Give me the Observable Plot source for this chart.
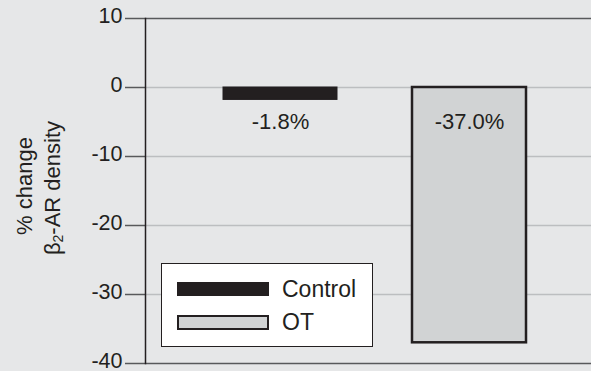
<!DOCTYPE html>
<html>
<head>
<meta charset="utf-8">
<script src="https://cdn.jsdelivr.net/npm/d3@7"></script>
<script src="https://cdn.jsdelivr.net/npm/@observablehq/plot@0.6"></script>
<style>
  html, body { margin: 0; padding: 0; background: #e6e7e8; }
  #wrap { position: relative; width: 591px; height: 371px; font-family: "Liberation Sans", Arial, sans-serif; color: #231f20; }
  #legend { position: absolute; left: 161px; top: 263px; width: 210px; height: 82px; background: #fff; border: 1.5px solid #231f20; }
  .item { position: absolute; left: 15px; height: 16px; display: flex; align-items: center; }
  .sw { width: 92px; box-sizing: border-box; }
  .lab { position: absolute; left: 105px; font-size: 23px; white-space: nowrap; line-height: 22px; }
</style>
</head>
<body>
<div id="wrap"></div>
<script>
const groups = ["Control", "OT"];
const values = [-1.8, -37.0];
const valueLabels = ["-1.8%", "-37.0%"];
const yTicks = [10, 0, -10, -20, -30, -40];
const gridTicks = [0, -10, -20, -30];
const edgeTicks = [10, -40];
const fills = ["#231f20", "#d1d3d4"];
const legendItems = ["Control", "OT"];

const data = groups.map((g, i) => ({group: g, value: values[i], label: valueLabels[i], fill: fills[i]}));

const chart = Plot.plot({
  width: 591,
  height: 371,
  marginLeft: 145,
  marginRight: 0,
  marginTop: 18,
  marginBottom: 8,
  style: {background: "#e6e7e8", fontFamily: "'Liberation Sans', Arial, sans-serif", fontSize: "22px", color: "#231f20", overflow: "visible"},
  x: {domain: groups, range: [222, 527], paddingInner: 0.3947, paddingOuter: 0, axis: null},
  y: {domain: [-40, 10], label: null, axis: null},
  marks: [
    Plot.ruleY(gridTicks, {stroke: "#bcbec0", strokeWidth: 1.5}),
    Plot.ruleY(edgeTicks, {stroke: "#58595b", strokeWidth: 1.5}),
    Plot.axisY({ticks: yTicks, tickSize: 20, tickFormat: () => "", label: null, stroke: "#58595b", strokeWidth: 1.5, strokeOpacity: 1}),
    Plot.text(yTicks, {y: d => d, text: d => String(d), frameAnchor: "left", textAnchor: "end", dx: -23, dy: -2, fontSize: 21.5, fill: "#231f20", lineAnchor: "middle"}),
    Plot.frame({anchor: "left", stroke: "#231f20", strokeWidth: 1.5}),
    Plot.barY(data, {x: "group", y: "value", fill: "fill", stroke: "#231f20", strokeWidth: d => d.group === "OT" ? 2.5 : 1}),
    Plot.text(data, {x: "group", y: () => 0, text: "label", dy: 34, fill: "#231f20", fontSize: 22, lineAnchor: "middle"})
  ]
});

const wrap = document.getElementById("wrap");
wrap.appendChild(chart);

// y axis title (two lines, rotated)
const svg = d3.select(chart);
svg.append("text")
  .attr("transform", "translate(24,186) rotate(-90)")
  .attr("text-anchor", "middle").attr("dominant-baseline", "central")
  .attr("font-size", 22).attr("fill", "#231f20")
  .text("% change");
const t2 = svg.append("text")
  .attr("transform", "translate(52,188) rotate(-90)")
  .attr("text-anchor", "middle").attr("dominant-baseline", "central")
  .attr("font-size", 22).attr("fill", "#231f20");
t2.append("tspan").text("β");
t2.append("tspan").attr("font-size", 14).attr("dy", 6).text("2");
t2.append("tspan").attr("dy", -6).text("-AR density");

// legend
const legend = document.createElement("div");
legend.id = "legend";
legendItems.forEach((name, i) => {
  const row = document.createElement("div");
  row.className = "item";
  row.style.top = (i === 0 ? 17 : 50) + "px";
  const sw = document.createElement("div");
  sw.className = "sw";
  sw.style.height = (i === 0 ? 14 : 15) + "px";
  sw.style.background = fills[i];
  sw.style.border = i === 0 ? "none" : "2px solid #231f20";
  const lab = document.createElement("div");
  lab.className = "lab";
  lab.textContent = name;
  row.appendChild(sw);
  row.appendChild(lab);
  legend.appendChild(row);
});
wrap.appendChild(legend);
</script>
</body>
</html>
